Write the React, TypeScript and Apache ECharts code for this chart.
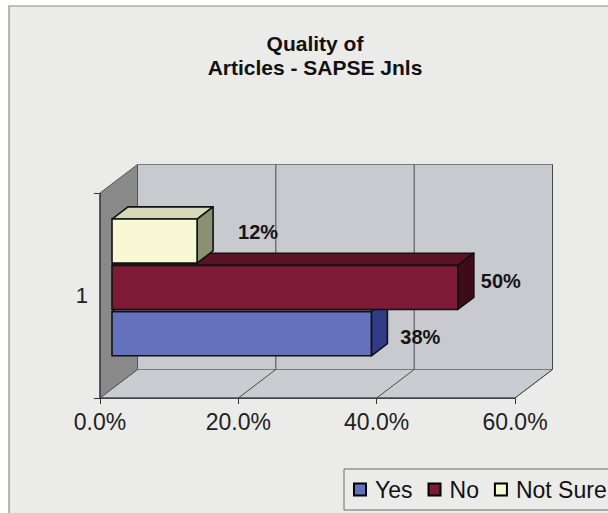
import React, { useEffect, useRef } from "react";
import * as echarts from "echarts";

// ---- data ----
const CATEGORIES = ["1"];
const SERIES_NAMES = ["Yes", "No", "Not Sure"];
const YES_VALUES = [37.5];
const NO_VALUES = [50];
const NOT_SURE_VALUES = [12.3];
const X_TICKS = [0, 20, 40, 60];
const TITLE_TEXT = "Quality of\nArticles - SAPSE Jnls";

// ---- styles / geometry ----
const FONT = '"Liberation Sans", Arial, Helvetica, sans-serif';
const DX = 37.5;
const DY = -28.5;
const F1 = 0.32;
const F2 = 0.747;
const BAR_H = 0.215;
const SLOT_STEP = 0.226;
const SLOT_CENTER = 0.005;

const STYLES = [
  { slot: 1, front: "#6472bd", top: "#4d599f", side: "#323c84", lx: 49, ly: 3 },
  { slot: 0, front: "#7d1a36", top: "#5a1227", side: "#3e0b1a", lx: 43, ly: -6.5 },
  { slot: -1, front: "#f8f8d4", top: "#d5d9ba", side: "#8c9072", lx: 61, ly: -9.5 },
];

function barRenderer(idx: number) {
  const st = STYLES[idx];
  return (params: any, api: any) => {
    const v = api.value(0);
    const cat = api.value(1);
    const start = api.coord([0, cat]);
    const end = api.coord([v, cat]);
    const band = api.size([0, 1])[1];
    const cy = start[1] + band * (SLOT_CENTER + st.slot * SLOT_STEP);
    const h = band * BAR_H;
    const x0 = start[0] + F1 * DX;
    const x1 = end[0] + F1 * DX;
    const yT = cy - h / 2 + F1 * DY;
    const yB = cy + h / 2 + F1 * DY;
    const bx = (F2 - F1) * DX;
    const by = (F2 - F1) * DY;
    const edge = { stroke: "#111", lineWidth: 1.6, lineJoin: "round" };
    return {
      type: "group",
      children: [
        {
          type: "polygon",
          shape: { points: [[x0, yT], [x1, yT], [x1 + bx, yT + by], [x0 + bx, yT + by]] },
          style: { fill: st.top, ...edge },
        },
        {
          type: "polygon",
          shape: { points: [[x1, yT], [x1 + bx, yT + by], [x1 + bx, yB + by], [x1, yB]] },
          style: { fill: st.side, ...edge },
        },
        {
          type: "rect",
          shape: { x: x0, y: yT, width: x1 - x0, height: yB - yT },
          style: { fill: st.front, ...edge },
        },
        {
          type: "text",
          x: x1 + st.lx,
          y: cy + F1 * DY + st.ly,
          style: {
            text: `${Math.round(v)}%`,
            fontFamily: FONT,
            fontWeight: "bold",
            fontSize: 20,
            fill: "#151515",
            align: "center",
            verticalAlign: "middle",
          },
        },
      ],
    };
  };
}

function wallsRenderer(params: any, api: any) {
  const cs = params.coordSys;
  const L = cs.x;
  const R = cs.x + cs.width;
  const T = cs.y;
  const B = cs.y + cs.height;
  const line = { stroke: "#4a4a4a", lineWidth: 1 };
  const children: any[] = [
    {
      type: "rect",
      shape: { x: L + DX, y: T + DY, width: R - L, height: B - T },
      style: { fill: "#c9c9d0", stroke: "#7a7a7a", lineWidth: 1 },
    },
    {
      type: "polygon",
      shape: { points: [[L, B], [R, B], [R + DX, B + DY], [L + DX, B + DY]] },
      style: { fill: "#cbcbd2", stroke: "#7a7a7a", lineWidth: 1 },
    },
    {
      type: "polygon",
      shape: { points: [[L, T], [L + DX, T + DY], [L + DX, B + DY], [L, B]] },
      style: { fill: "#898989", stroke: "#555", lineWidth: 1 },
    },
  ];
  X_TICKS.forEach((t) => {
    if (t === X_TICKS[0]) return;
    const x = api.coord([t, 0])[0];
    children.push({
      type: "polyline",
      shape: { points: [[x, B], [x + DX, B + DY], [x + DX, T + DY]] },
      style: { ...line, fill: null },
    });
  });
  children.push({
    type: "line",
    shape: { x1: L, y1: B, x2: R, y2: B },
    style: { stroke: "#333", lineWidth: 1.2 },
  });
  children.push({
    type: "line",
    shape: { x1: L, y1: T, x2: L, y2: B },
    style: { stroke: "#333", lineWidth: 1.2 },
  });
  return { type: "group", children };
}

const VALUE_SETS = [YES_VALUES, NO_VALUES, NOT_SURE_VALUES];

export default function App() {
  const ref = useRef<HTMLDivElement>(null);
  useEffect(() => {
    if (!ref.current) return;
    const chart = echarts.init(ref.current, undefined, { renderer: "svg" });
    const barSeries = SERIES_NAMES.map((name, i) => ({
      type: "custom",
      name,
      z: 3 + i,
      renderItem: barRenderer(i),
      encode: { x: 0, y: 1 },
      itemStyle: { color: STYLES[i].front, borderColor: "#000", borderWidth: 1 },
      data: VALUE_SETS[i].map((v, ci) => [v, ci]),
    }));
    chart.setOption({
      animation: false,
      backgroundColor: "#ffffff",
      graphic: [
        {
          type: "rect",
          z: -10,
          shape: { x: 9, y: 6, width: 640, height: 600 },
          style: { fill: "#ebebea", stroke: "#8a8a8a", lineWidth: 1.2 },
        },
      ],
      title: {
        text: TITLE_TEXT,
        left: 315,
        top: 31,
        textAlign: "center",
        padding: 0,
        textStyle: {
          fontFamily: FONT,
          fontWeight: "bold",
          fontSize: 21,
          lineHeight: 24,
          color: "#111",
        },
      },
      legend: {
        data: SERIES_NAMES,
        left: 344,
        top: 469,
        width: 320,
        padding: [9, 9, 9, 9],
        borderColor: "#6a6a6a",
        borderWidth: 1,
        backgroundColor: "#ebebea",
        icon: "rect",
        itemWidth: 12,
        itemHeight: 12,
        itemGap: 15,
        textStyle: {
          fontFamily: FONT,
          fontSize: 23,
          color: "#111",
          padding: [0, 0, 0, 4],
        },
      },
      grid: { left: 100, right: 93, top: 193, bottom: 115, containLabel: false },
      xAxis: {
        type: "value",
        min: X_TICKS[0],
        max: X_TICKS[X_TICKS.length - 1],
        interval: X_TICKS[1] - X_TICKS[0],
        axisLine: { show: true, lineStyle: { color: "#333", width: 1.2 } },
        axisTick: { show: true, length: 6, lineStyle: { color: "#333" } },
        splitLine: { show: false },
        axisLabel: {
          formatter: (v: number) => `${v.toFixed(1)}%`,
          fontFamily: FONT,
          fontSize: 23,
          color: "#222",
          margin: 12,
        },
      },
      yAxis: {
        type: "category",
        data: CATEGORIES,
        axisLine: { show: true, lineStyle: { color: "#333", width: 1.2 } },
        axisTick: { show: true, length: 6, lineStyle: { color: "#333" } },
        axisLabel: { fontFamily: FONT, fontSize: 22, color: "#222", margin: 12 },
        splitLine: { show: false },
      },
      series: [
        {
          type: "custom",
          name: "walls",
          z: 1,
          renderItem: wallsRenderer,
          encode: { x: 0, y: 1 },
          data: [[0, 0]],
          silent: true,
        },
        ...barSeries,
      ],
    });
    return () => chart.dispose();
  }, []);
  return (
    <div
      ref={ref}
      style={{ position: "absolute", left: 0, top: 0, width: 608, height: 513 }}
    />
  );
}
